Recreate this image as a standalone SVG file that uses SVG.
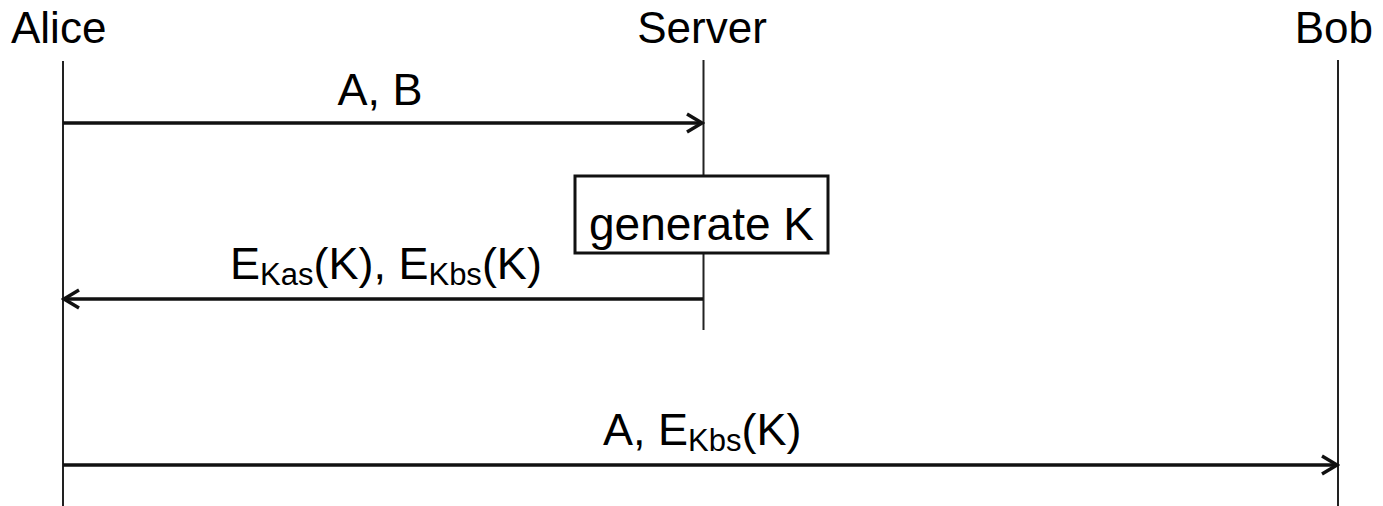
<svg xmlns="http://www.w3.org/2000/svg" width="1383" height="506" viewBox="0 0 1383 506">
<defs>
<style>
text{font-family:"Liberation Sans",Arial,sans-serif;fill:#000}
.title{font-size:44px}
.lbl{font-size:45px}
.gen{font-size:46px}
.sub{font-size:31px}
.life{stroke:#222;stroke-width:2;fill:none}
.msg{stroke:#111;stroke-width:3.4;fill:none}
.box{fill:#fff;stroke:#111;stroke-width:3}
</style>
<marker id="arr" viewBox="0 0 24 24" refX="21" refY="12" markerWidth="24" markerHeight="24" markerUnits="userSpaceOnUse" orient="auto">
<path d="M6,3 L21,12 L6,21" fill="none" stroke="#111" stroke-width="3.4"/>
</marker>
</defs>
<g id="alice">
<text class="title" x="11" y="43">Alice</text>
<line class="life" x1="63" y1="61" x2="63" y2="506"/>
</g>
<g id="server">
<text class="title" x="702" y="43" text-anchor="middle">Server</text>
<line class="life" x1="703.5" y1="60" x2="703.5" y2="330"/>
</g>
<g id="bob">
<text class="title" x="1373" y="43" text-anchor="end">Bob</text>
<line class="life" x1="1338" y1="60" x2="1338" y2="506"/>
</g>
<g id="generate">
<rect class="box" x="575" y="176" width="253" height="77"/>
<text class="gen" x="701.5" y="240" text-anchor="middle">generate K</text>
</g>
<g id="connectors">
<line class="msg" x1="63" y1="123" x2="702" y2="123" marker-end="url(#arr)"/>
<text class="lbl" x="380" y="105" text-anchor="middle">A, B</text>
<line class="msg" x1="703" y1="299" x2="64" y2="299" marker-end="url(#arr)"/>
<text class="lbl" x="230" y="279">E<tspan class="sub" dy="6">Kas</tspan><tspan dy="-6">(K), E</tspan><tspan class="sub" dy="6">Kbs</tspan><tspan dy="-6">(K)</tspan></text>
<line class="msg" x1="63" y1="465" x2="1337" y2="465" marker-end="url(#arr)"/>
<text class="lbl" x="603" y="445">A, E<tspan class="sub" dy="6">Kbs</tspan><tspan dy="-6">(K)</tspan></text>
</g>
</svg>
